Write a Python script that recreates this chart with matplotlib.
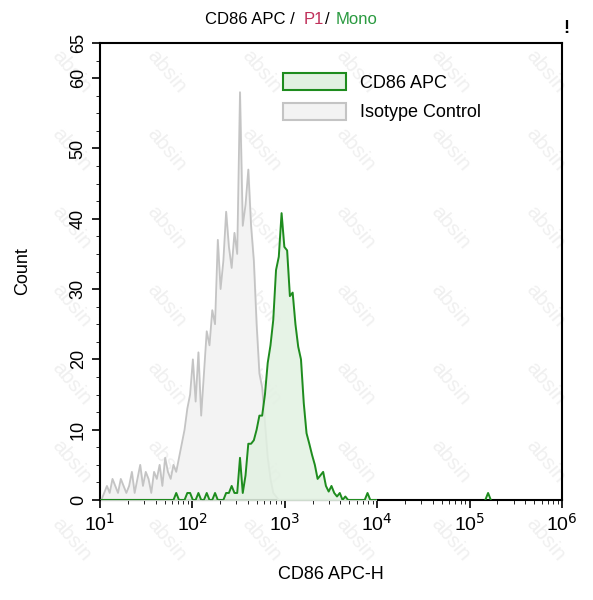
import numpy as np
import matplotlib
matplotlib.use("Agg")
import matplotlib.pyplot as plt
from matplotlib.patches import Patch

plt.rcParams["font.family"] = ["Liberation Sans", "DejaVu Sans"]

bin_width = 0.03
log_start = 1.0
isotype = [0,1,2,1,3,2,1,3,2,1,
           2,4,1,3,5,2,4,3,1,4,
           3,5,2,6,4,3,5,4,6,8,
           10,13,15,20,14,21,12,18,24,22,
           27,25,37,30,34,41,36,33,38,35,
           58,39,42,47,39,34,25,18,16,11,
           6,3,1,0.5,0,0,0,0,0,0,
           0,0,0,0,0,0,0,0,0,0,
           0,0,0,0,0,0,0,0,0,0,
           0,0,0,0,0,0,0,0,0,0]
cd86 = [0,0,0,0,0,0,0,0,0,0,
        0,0,0,0,0,0,0,0,0,0,
        0,0,0,0,0,0,0,1,0,0,
        0,1,1,0,0,1,0,0,1,0,
        0,1,0,0,0,1,1,2,1,1,
        6,1,3.5,8,8,8.5,10,12,12,15,
        19.5,22,25.6,32.7,34.6,40.8,36,35.5,29,29.5,
        25,21.8,20,13.8,9.5,8,6.4,5,3,3.5,
        4,2,1.2,2,1,0.5,1,0,0.5,0,
        0,0,0,0,0,0,1,0,0,0]
outlier_log = 5.2
outlier_count = 1

n = len(isotype)
centers = 10 ** (log_start + bin_width * (np.arange(n) + 0.5))

fig = plt.figure(figsize=(5.93, 6.0), dpi=100)
ax = fig.add_axes([100/593, 100/600, 462/593, 457/600])

# watermark
for xw in np.arange(0.12, 0.95, 0.16):
    for yw in np.arange(0.1, 0.9, 0.13):
        fig.text(xw, yw, "absin", rotation=-50, color="#f0f0f0", fontsize=15,
                 ha="center", va="center", zorder=-5)

ax.fill_between(centers, isotype, color="#f3f3f3", zorder=2)
ax.plot(centers, isotype, color="#c4c4c4", lw=1.3, zorder=3)
ax.fill_between(centers, cd86, color="#e2f1e2", alpha=0.85, zorder=4)
ax.plot(centers, cd86, color="#1e8c1e", lw=1.4, zorder=5)
oc = 10 ** (outlier_log + bin_width * np.array([-1, 0, 1]))
ax.plot(oc, [0, outlier_count, 0], color="#1e8c1e", lw=1.4, zorder=5)

ax.set_xscale("log")
ax.set_xlim(10, 1e6)
ax.set_ylim(0, 65)
ax.patch.set_alpha(0)
ax.set_yticks([0, 10, 20, 30, 40, 50, 60, 65])
ax.set_yticks(np.arange(0, 65, 2.5), minor=True)
ax.set_yticklabels(["0", "10", "20", "30", "40", "50", "60", "65"], rotation=90,
                   va="center", fontsize=13)
ax.set_xticks([10, 1e2, 1e3, 1e4, 1e5, 1e6])
ax.set_xticklabels([r"10$^{1}$", r"10$^{2}$", r"10$^{3}$", r"10$^{4}$", r"10$^{5}$", r"10$^{6}$"],
                   fontsize=14)
ax.tick_params(direction="out", length=6, width=1.2)
ax.tick_params(which="minor", length=3)
for s in ax.spines.values():
    s.set_linewidth(1.5)
ax.set_xlabel("CD86 APC-H", fontsize=13, labelpad=22)
ax.set_ylabel("Count", fontsize=13, labelpad=28)

h = [Patch(facecolor="#e2f1e2", edgecolor="#1e8c1e", lw=1.5, label="CD86 APC"),
     Patch(facecolor="#f3f3f3", edgecolor="#c4c4c4", lw=1.5, label="Isotype Control")]
ax.legend(handles=h, loc="upper left", bbox_to_anchor=(0.36, 0.97), frameon=False,
          fontsize=13, handlelength=3.5, handleheight=1.1, labelspacing=0.6)

y_t = 0.967
fig.text(0.345, y_t, "CD86 APC /", fontsize=12, ha="left", va="center")
fig.text(0.512, y_t, "P1", fontsize=12, ha="left", va="center", color="#c0305a")
fig.text(0.548, y_t, "/", fontsize=12, ha="left", va="center")
fig.text(0.566, y_t, "Mono", fontsize=12, ha="left", va="center", color="#2a9a40")
fig.text(0.955, 0.953, "!", fontsize=13, fontweight="bold", ha="center", va="center")

fig.savefig("out.png", dpi=100)
